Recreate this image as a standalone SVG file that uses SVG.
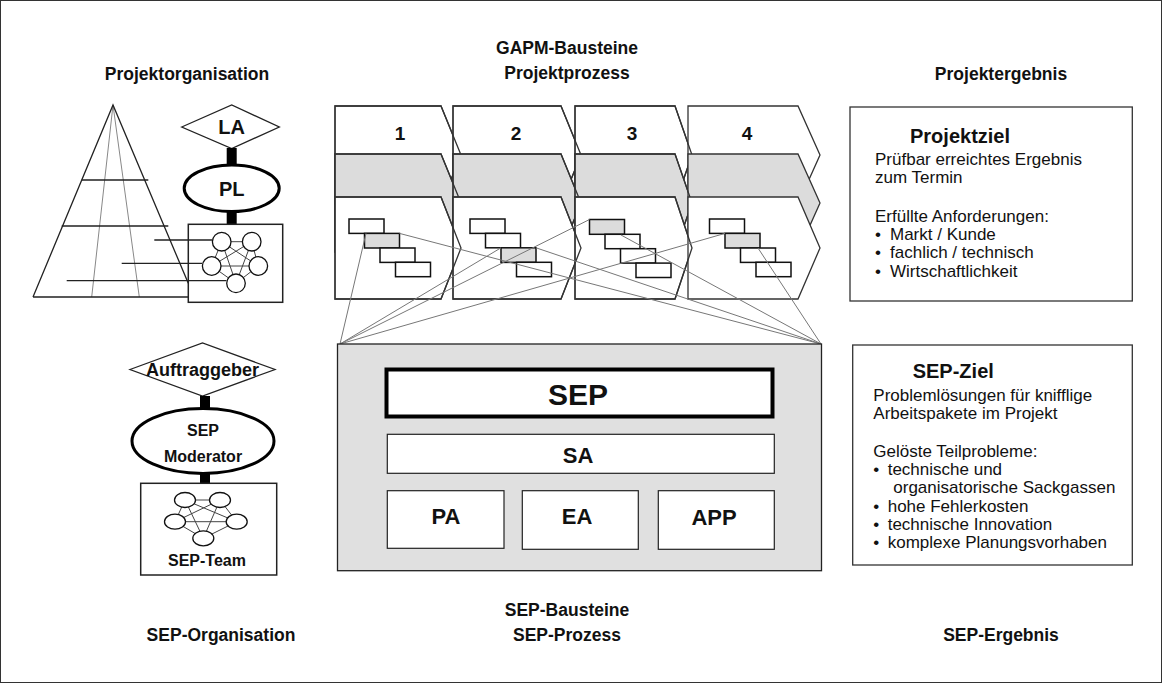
<svg xmlns="http://www.w3.org/2000/svg" width="1163" height="684" viewBox="0 0 1163 684">
<style>
text{font-family:"Liberation Sans",Arial,sans-serif;fill:#111}
.t{font-size:17.5px;font-weight:bold;text-anchor:middle}
.b{font-size:17px}
.h{font-size:20px;font-weight:bold}
.lbl{font-weight:bold;text-anchor:middle}
.col{stroke:#333;stroke-width:1.3}
.wp{fill:#fff;stroke:#111;stroke-width:1.5}
.wpg{fill:#dcdcdc;stroke:#111;stroke-width:1.5}
.thin{stroke:#777;stroke-width:1;fill:none}
.net{stroke:#444;stroke-width:1;fill:none}
.nd{fill:#fff;stroke:#111;stroke-width:1.3}
</style>
<rect x="0.5" y="0.5" width="1161" height="682" fill="#fff" stroke="#333" stroke-width="1"/>

<!-- titles -->
<g id="titles">
<text class="t" x="187" y="80">Projektorganisation</text>
<text class="t" x="567" y="54">GAPM-Bausteine</text>
<text class="t" x="567" y="79">Projektprozess</text>
<text class="t" x="1001" y="80">Projektergebnis</text>
<text class="t" x="567" y="616">SEP-Bausteine</text>
<text class="t" x="567" y="641">SEP-Prozess</text>
<text class="t" x="221" y="641">SEP-Organisation</text>
<text class="t" x="1001" y="641">SEP-Ergebnis</text>
</g>

<!-- project organisation -->
<g id="pyramid">
<path d="M91.7,297 L113,105 L139.3,297" fill="none" stroke="#888" stroke-width="1"/>
<path d="M33,297 L113,105 L188.3,283.3 M33,297 H188.3" fill="none" stroke="#222" stroke-width="1.3"/>
<path d="M81.7,180 H148.3 M61.7,226 H168.3 M154.3,240 H212 M121.7,263.3 H202 M66.7,280.7 H226.5" fill="none" stroke="#222" stroke-width="1.3"/>
</g>
<g id="LA">
<polygon points="181.7,127 231.7,105 279.3,127 231.7,148.5" fill="#fff" stroke="#222" stroke-width="1.3"/>
<text class="lbl" x="231.7" y="134" font-size="20">LA</text>
</g>
<rect x="226.7" y="148" width="10" height="18" fill="#000"/>
<g id="PL">
<ellipse cx="231.7" cy="188.3" rx="47.5" ry="23.3" fill="#fff" stroke="#000" stroke-width="3"/>
<text class="lbl" x="231.7" y="195.5" font-size="20">PL</text>
</g>
<rect x="226.7" y="211" width="10" height="14" fill="#000"/>
<g id="team">
<rect x="188.3" y="224.3" width="94.4" height="78" fill="none" stroke="#222" stroke-width="1.5"/>
<path class="net" d="M221.7,241.7 L251.7,241.7 L258.3,266 L236,283.3 L211.7,266 Z M221.7,241.7 L258.3,266 L211.7,266 L251.7,241.7 L236,283.3 L221.7,241.7"/>
<circle class="nd" cx="221.7" cy="241.7" r="9.3"/>
<circle class="nd" cx="251.7" cy="241.7" r="9.3"/>
<circle class="nd" cx="211.7" cy="266" r="9.3"/>
<circle class="nd" cx="258.3" cy="266" r="9.3"/>
<circle class="nd" cx="236" cy="283.3" r="9.3"/>
</g>

<!-- SEP organisation -->
<g id="auftraggeber">
<polygon points="130,369.5 202.5,343 275,369.5 202.5,396" fill="#fff" stroke="#222" stroke-width="1.3"/>
<text class="lbl" x="202.5" y="376" font-size="18">Auftraggeber</text>
</g>
<rect x="200" y="396" width="10" height="13" fill="#000"/>
<g id="moderator">
<ellipse cx="203" cy="441" rx="71" ry="32.5" fill="#fff" stroke="#000" stroke-width="3"/>
<text class="lbl" x="203" y="436" font-size="16">SEP</text>
<text class="lbl" x="203" y="462" font-size="16">Moderator</text>
</g>
<rect x="200" y="473" width="10" height="11" fill="#000"/>
<g id="septeam">
<rect x="140.7" y="483.3" width="136" height="91.7" fill="#fff" stroke="#222" stroke-width="1.5"/>
<path class="net" d="M185,500 L220,500 L236.7,521.7 L203.3,538.3 L175,521.7 Z M185,500 L236.7,521.7 L175,521.7 L220,500 L203.3,538.3 L185,500"/>
<ellipse class="nd" cx="185" cy="500" rx="10.5" ry="7.5"/>
<ellipse class="nd" cx="220" cy="500" rx="10.5" ry="7.5"/>
<ellipse class="nd" cx="175" cy="521.7" rx="10.5" ry="7.5"/>
<ellipse class="nd" cx="236.7" cy="521.7" rx="10.5" ry="7.5"/>
<ellipse class="nd" cx="203.3" cy="538.3" rx="10.5" ry="7.5"/>
<text class="lbl" x="207" y="566" font-size="16">SEP-Team</text>
</g>

<!-- GAPM process columns -->
<g id="process">
<g id="row-top" fill="#fff">
<path id="c1a" class="col" d="M335,106 H441 L461,155 L441,204 H335 Z"/>
<path id="c2a" class="col" d="M453,106 H561 L581,155 L561,204 H453 Z"/>
<path id="c3a" class="col" d="M575,106 H675 L692,155 L675,204 H575 Z"/>
<path id="c4a" class="col" d="M688,106 H798 L820,155 L798,204 H688 Z"/>
<g fill="none"><use href="#c1a"/><use href="#c2a"/><use href="#c3a"/></g>
</g>
<g id="row-mid" fill="#dcdcdc">
<path id="c1b" class="col" d="M335,154 H441 L461,203 L441,252 H335 Z"/>
<path id="c2b" class="col" d="M453,154 H561 L581,203 L561,252 H453 Z"/>
<path id="c3b" class="col" d="M575,154 H675 L692,203 L675,252 H575 Z"/>
<path id="c4b" class="col" d="M688,154 H798 L820,203 L798,252 H688 Z"/>
<g fill="none"><use href="#c1b"/><use href="#c2b"/><use href="#c3b"/></g>
</g>
<g id="row-bot" fill="#fff">
<path id="c1c" class="col" d="M335,197 H441 L461,248 L441,299 H335 Z"/>
<path id="c2c" class="col" d="M453,197 H561 L581,248 L561,299 H453 Z"/>
<path id="c3c" class="col" d="M575,197 H675 L692,248 L675,299 H575 Z"/>
<path id="c4c" class="col" d="M688,197 H798 L820,248 L798,299 H688 Z"/>
<g fill="none"><use href="#c1c"/><use href="#c2c"/><use href="#c3c"/></g>
</g>
<g font-size="19">
<text class="lbl" x="400" y="139.5">1</text>
<text class="lbl" x="516" y="139.5">2</text>
<text class="lbl" x="632" y="139.5">3</text>
<text class="lbl" x="747" y="139.5">4</text>
</g>
<g id="wp1">
<rect class="wp" x="349" y="219" width="35" height="14.4"/>
<rect class="wpg" x="364.5" y="233.4" width="35" height="14.6"/>
<rect class="wp" x="380" y="248" width="35" height="14.4"/>
<rect class="wp" x="395.5" y="262.3" width="35" height="14.4"/>
</g>
<g id="wp2">
<rect class="wp" x="470" y="219" width="35" height="14.4"/>
<rect class="wp" x="485.5" y="233.4" width="35" height="14.4"/>
<rect class="wpg" x="501" y="247.8" width="35" height="14.6"/>
<rect class="wp" x="516.5" y="262.3" width="35" height="14.4"/>
</g>
<g id="wp3">
<rect class="wpg" x="589.5" y="219.5" width="35" height="14.8"/>
<rect class="wp" x="605" y="234.3" width="35" height="14.4"/>
<rect class="wp" x="620.5" y="248.7" width="35" height="14.4"/>
<rect class="wp" x="636" y="263.1" width="35" height="14.4"/>
</g>
<g id="wp4">
<rect class="wp" x="709.5" y="219" width="35" height="14.4"/>
<rect class="wpg" x="725" y="233.4" width="35" height="14.6"/>
<rect class="wp" x="740.5" y="248" width="35" height="14.4"/>
<rect class="wp" x="756" y="262.3" width="35" height="14.4"/>
</g>
</g>

<!-- connectors -->
<g id="connectors" class="thin">
<line x1="366" y1="233.4" x2="340" y2="344"/>
<line x1="501" y1="247.8" x2="340" y2="344"/>
<line x1="589.5" y1="219.5" x2="340" y2="344"/>
<line x1="725" y1="233.4" x2="340" y2="344"/>
<line x1="399.5" y1="233.4" x2="821" y2="344"/>
<line x1="536" y1="247.8" x2="821" y2="344"/>
<line x1="621" y1="235" x2="821" y2="344"/>
<line x1="758" y1="248" x2="821" y2="344"/>
</g>

<!-- SEP building blocks -->
<g id="sep-box">
<rect x="337.5" y="344" width="484" height="226.7" fill="#e0e0e0" stroke="#222" stroke-width="1.3"/>
</g>
<g id="SEP">
<rect x="386.5" y="369.5" width="386" height="47" fill="#fff" stroke="#000" stroke-width="4"/>
<text class="lbl" x="578" y="405" font-size="30">SEP</text>
</g>
<g id="SA">
<rect x="387.3" y="434.3" width="387" height="39" fill="#fff" stroke="#222" stroke-width="1.2"/>
<text class="lbl" x="578" y="463" font-size="22">SA</text>
</g>
<g id="PA">
<rect x="387.3" y="490.7" width="116.7" height="57.6" fill="#fff" stroke="#222" stroke-width="1.2"/>
<text class="lbl" x="446" y="524" font-size="22">PA</text>
</g>
<g id="EA">
<rect x="522.3" y="490.7" width="116" height="58.6" fill="#fff" stroke="#222" stroke-width="1.2"/>
<text class="lbl" x="577" y="524" font-size="22">EA</text>
</g>
<g id="APP">
<rect x="658.3" y="490.7" width="116" height="58.6" fill="#fff" stroke="#222" stroke-width="1.2"/>
<text class="lbl" x="714" y="525" font-size="22">APP</text>
</g>

<!-- results -->
<g id="projektziel">
<rect x="850" y="107" width="282.3" height="194" fill="#fff" stroke="#333" stroke-width="1.3"/>
<text class="h" x="910" y="143.3">Projektziel</text>
<text class="b" x="875" y="165">Prüfbar erreichtes Ergebnis</text>
<text class="b" x="875" y="183.3">zum Termin</text>
<text class="b" x="875" y="221.7">Erfüllte Anforderungen:</text>
<text class="b" x="875" y="240">•</text><text class="b" x="890" y="240">Markt / Kunde</text>
<text class="b" x="875" y="258.3">•</text><text class="b" x="890" y="258.3">fachlich / technisch</text>
<text class="b" x="875" y="276.7">•</text><text class="b" x="890" y="276.7">Wirtschaftlichkeit</text>
</g>
<g id="sepziel">
<rect x="852.7" y="345" width="279.6" height="220" fill="#fff" stroke="#333" stroke-width="1.3"/>
<text class="h" x="912.7" y="378.3">SEP-Ziel</text>
<text class="b" x="873.3" y="401">Problemlösungen für knifflige</text>
<text class="b" x="873.3" y="419.3">Arbeitspakete im Projekt</text>
<text class="b" x="873.3" y="456.7">Gelöste Teilprobleme:</text>
<text class="b" x="873.3" y="475">•</text><text class="b" x="887.7" y="475">technische und</text>
<text class="b" x="893.3" y="493.3">organisatorische Sackgassen</text>
<text class="b" x="873.3" y="511.6">•</text><text class="b" x="887.7" y="511.6">hohe Fehlerkosten</text>
<text class="b" x="873.3" y="530">•</text><text class="b" x="887.7" y="530">technische Innovation</text>
<text class="b" x="873.3" y="548.3">•</text><text class="b" x="887.7" y="548.3">komplexe Planungsvorhaben</text>
</g>
</svg>
